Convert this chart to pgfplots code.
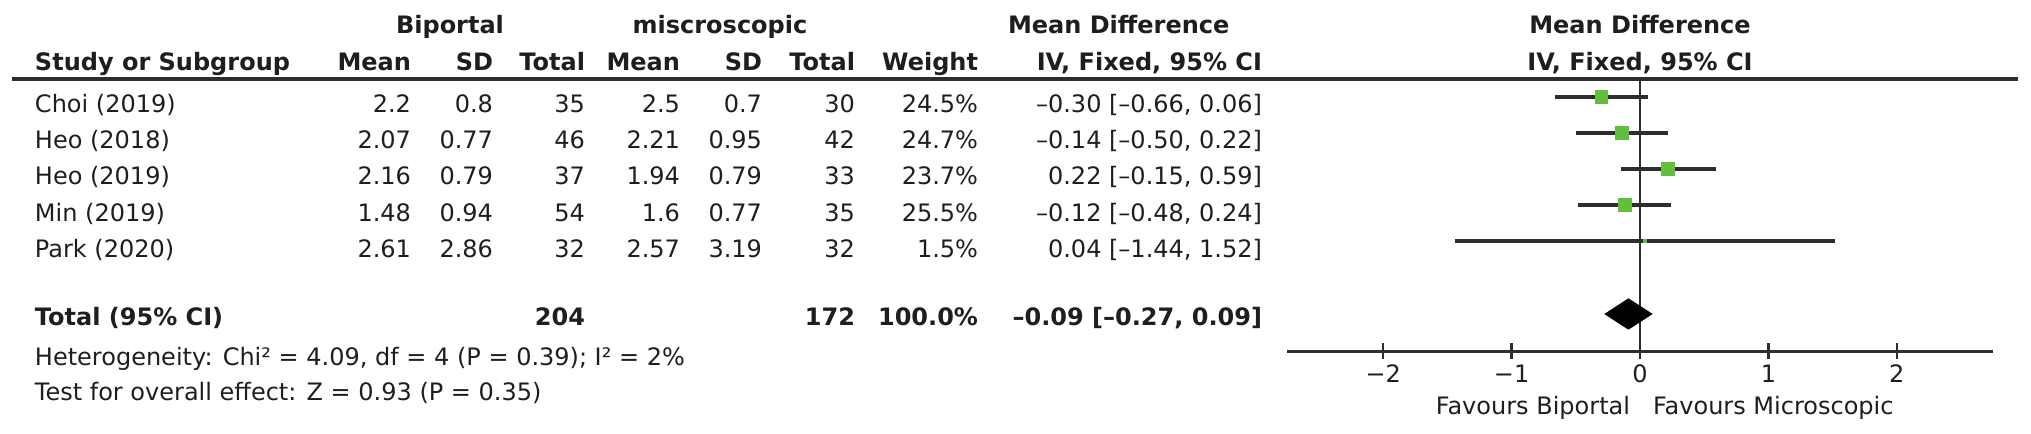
\documentclass[border=0pt]{standalone}
\usepackage{pgfplots}
\pgfplotsset{compat=1.18}
\usepackage{pgfplotstable}
\usepackage{fontspec}
\setmainfont{DejaVu Sans}
\definecolor{fgreen}{RGB}{98,190,60}
\definecolor{txt}{RGB}{30,30,30}
\definecolor{lin}{RGB}{45,45,45}

% row = vertical position (row index, 0 = first study), md = mean difference, lo/hi = 95% CI, w = weight (%)
\pgfplotstableread{
row md lo hi w
0 -0.30 -0.66 0.06 24.5
-1 -0.14 -0.50 0.22 24.7
-2 0.22 -0.15 0.59 23.7
-3 -0.12 -0.48 0.24 25.5
-4 0.04 -1.44 1.52 1.5
}\studies

\begin{document}
\begin{tikzpicture}
\useasboundingbox (0,0) rectangle (507.75pt,-108.25pt);
\begin{axis}[
  at={(321.75pt,-87.75pt)}, anchor=south west,
  scale only axis, width=176.5pt, height=68pt,
  xmin=-2.75, xmax=2.75, ymin=-7.056, ymax=0.5,
  axis x line*=bottom, axis y line=none,
  axis line style={line width=0.75pt, lin},
  xtick={-2,-1,0,1,2},
  xticklabels={−2,−1,0,1,2},
  tick align=center, major tick length=4pt,
  xtick style={line width=0.6pt, lin},
  xticklabel style={font=\fontsize{6}{7}\selectfont, text=txt, anchor=base, yshift=-5.8pt, inner sep=0pt},
  clip=false,
]
\addplot [line width=0.55pt, lin] coordinates {(0,0.5) (0,-7.056)};
\addplot [only marks, mark=*, mark size=0pt, mark options={draw=none, fill=none},
  error bars/.cd, x dir=both, x explicit, error mark=none,
  error bar style={line width=0.8pt, draw=lin}]
  table [x=md, y=row, x error minus expr=\thisrow{md}-\thisrow{lo}, x error plus expr=\thisrow{hi}-\thisrow{md}] {\studies};
% study squares, side proportional to sqrt(weight)
\addplot [fgreen, only marks, mark=square*, line width=0.3pt, mark size=1.58pt] coordinates {(-0.30,0)};
\addplot [fgreen, only marks, mark=square*, line width=0.3pt, mark size=1.59pt] coordinates {(-0.14,-1)};
\addplot [fgreen, only marks, mark=square*, line width=0.3pt, mark size=1.55pt] coordinates {(0.22,-2)};
\addplot [fgreen, only marks, mark=square*, line width=0.3pt, mark size=1.62pt] coordinates {(-0.12,-3)};
\addplot [fgreen, only marks, mark=square*, line width=0.3pt, mark size=0.3pt] coordinates {(0.04,-4)};
% pooled estimate: -0.09 [-0.27, 0.09]
\addplot [fill=black, draw=black, line width=0.3pt] coordinates {(-0.27,-6.028) (-0.09,-5.611) (0.09,-6.028) (-0.09,-6.444)} -- cycle;
\end{axis}

\begin{scope}[x=0.25pt, y=-0.25pt, every node/.style={inner sep=0pt, outer sep=0pt, font=\fontsize{6}{7}\selectfont, text=txt}]
\draw[line width=1pt, lin] (12,79) -- (2018,79);
% header row 1
\node[anchor=base] at (450,33) {\bfseries Biportal};
\node[anchor=base] at (720,33) {\bfseries miscroscopic};
\node[anchor=base west] at (1008,33) {\bfseries Mean Difference};
\node[anchor=base] at (1640,33) {\bfseries Mean Difference};
% header row 2
\node[anchor=base west] at (35,70) {\bfseries Study or Subgroup};
\node[anchor=base east] at (411,70) {\bfseries Mean};
\node[anchor=base east] at (493,70) {\bfseries SD};
\node[anchor=base east] at (585,70) {\bfseries Total};
\node[anchor=base east] at (680,70) {\bfseries Mean};
\node[anchor=base east] at (762,70) {\bfseries SD};
\node[anchor=base east] at (855,70) {\bfseries Total};
\node[anchor=base east] at (978,70) {\bfseries Weight};
\node[anchor=base east] at (1262,70) {\bfseries IV, Fixed, 95\% CI};
\node[anchor=base] at (1640,70) {\bfseries IV, Fixed, 95\% CI};
% study rows
\foreach \y/\s/\a/\b/\c/\d/\e/\f/\g/\h in {
  112/Choi (2019)/2.2/0.8/35/2.5/0.7/30/24.5\%/{–0.30 [–0.66, 0.06]},
  148/Heo (2018)/2.07/0.77/46/2.21/0.95/42/24.7\%/{–0.14 [–0.50, 0.22]},
  184/Heo (2019)/2.16/0.79/37/1.94/0.79/33/23.7\%/{0.22 [–0.15, 0.59]},
  221/Min (2019)/1.48/0.94/54/1.6/0.77/35/25.5\%/{–0.12 [–0.48, 0.24]},
  257/Park (2020)/2.61/2.86/32/2.57/3.19/32/1.5\%/{0.04 [–1.44, 1.52]}}{
  \node[anchor=base west] at (35,\y) {\s};
  \node[anchor=base east] at (411,\y) {\a};
  \node[anchor=base east] at (493,\y) {\b};
  \node[anchor=base east] at (585,\y) {\c};
  \node[anchor=base east] at (680,\y) {\d};
  \node[anchor=base east] at (762,\y) {\e};
  \node[anchor=base east] at (855,\y) {\f};
  \node[anchor=base east] at (978,\y) {\g};
  \node[anchor=base east] at (1262,\y) {\h};
}
% total row
\node[anchor=base west] at (35,325) {\bfseries Total (95\% CI)};
\node[anchor=base east] at (585,325) {\bfseries 204};
\node[anchor=base east] at (855,325) {\bfseries 172};
\node[anchor=base east] at (978,325) {\bfseries 100.0\%};
\node[anchor=base east] at (1262,325) {\bfseries –0.09 [–0.27, 0.09]};
\node[anchor=base west] at (35,365) {Heterogeneity: Chi² = 4.09, df = 4 (P = 0.39); I² = 2\%};
\node[anchor=base west] at (35,400) {Test for overall effect: Z = 0.93 (P = 0.35)};
% favours labels
\node[anchor=base east] at (1630,414) {Favours Biportal};
\node[anchor=base west] at (1653,414) {Favours Microscopic};
\end{scope}
\end{tikzpicture}
\end{document}
